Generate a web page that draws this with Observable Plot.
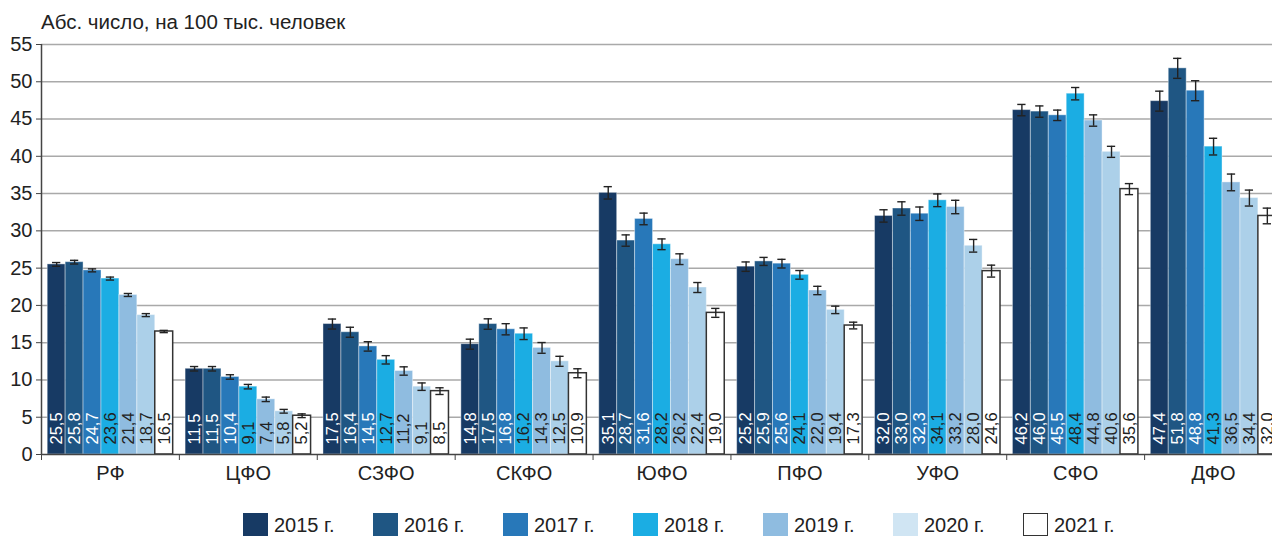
<!DOCTYPE html>
<html>
<head>
<meta charset="utf-8">
<script src="https://cdn.jsdelivr.net/npm/d3@7"></script>
<script src="https://cdn.jsdelivr.net/npm/@observablehq/plot@0.6"></script>
<style>
  html, body { margin: 0; padding: 0; overflow: hidden; background: #fff; width: 1272px; height: 536px; }
  body { position: relative; font-family: "Liberation Sans", Arial, sans-serif; color: #222; }
  #title { position: absolute; left: 41px; top: 12px; font-size: 20.5px; line-height: 1; white-space: nowrap; }
  #chart { position: absolute; left: 0; top: 0; }
  #chart svg { max-width: none !important; }
  #legend { position: absolute; left: 243px; top: 513px; display: flex; }
  .item { width: 130px; display: flex; align-items: center; }
  .sw { width: 25px; height: 23px; box-sizing: border-box; }
  .lt { margin-left: 6px; font-size: 20px; line-height: 1; }
</style>
</head>
<body>
<div id="title">Абс. число, на 100 тыс. человек</div>
<div id="chart"></div>
<div id="legend"></div>
<script>
// ---- data ----
const regions = ["РФ", "ЦФО", "СЗФО", "СКФО", "ЮФО", "ПФО", "УФО", "СФО", "ДФО"];
const years = ["2015 г.", "2016 г.", "2017 г.", "2018 г.", "2019 г.", "2020 г.", "2021 г."];
const v2015 = [25.5, 11.5, 17.5, 14.8, 35.1, 25.2, 32.0, 46.2, 47.4];
const v2016 = [25.8, 11.5, 16.4, 17.5, 28.7, 25.9, 33.0, 46.0, 51.8];
const v2017 = [24.7, 10.4, 14.5, 16.8, 31.6, 25.6, 32.3, 45.5, 48.8];
const v2018 = [23.6, 9.1, 12.7, 16.2, 28.2, 24.1, 34.1, 48.4, 41.3];
const v2019 = [21.4, 7.4, 11.2, 14.3, 26.2, 22.0, 33.2, 44.8, 36.5];
const v2020 = [18.7, 5.8, 9.1, 12.5, 22.4, 19.4, 28.0, 40.6, 34.4];
const v2021 = [16.5, 5.2, 8.5, 10.9, 19.0, 17.3, 24.6, 35.6, 32.0];
// error bar half-widths (estimated)
const e2015 = [0.25, 0.3, 0.67, 0.67, 0.83, 0.63, 0.83, 0.76, 1.34];
const e2016 = [0.25, 0.3, 0.67, 0.70, 0.76, 0.54, 0.90, 0.76, 1.34];
const e2017 = [0.20, 0.3, 0.63, 0.75, 0.78, 0.58, 0.90, 0.70, 1.34];
const e2018 = [0.20, 0.3, 0.56, 0.78, 0.72, 0.58, 0.85, 0.83, 1.12];
const e2019 = [0.20, 0.3, 0.56, 0.72, 0.72, 0.56, 0.90, 0.76, 1.12];
const e2020 = [0.20, 0.25, 0.50, 0.67, 0.67, 0.50, 0.85, 0.74, 1.07];
const e2021 = [0.15, 0.25, 0.45, 0.60, 0.60, 0.45, 0.80, 0.74, 1.05];
const yTicks = [0, 5, 10, 15, 20, 25, 30, 35, 40, 45, 50, 55];

// ---- style ----
const barColors = ["#173a64", "#1f5683", "#2878b9", "#1badE3", "#8fbce0", "#acd0e9", "#ffffff"];
const legendColors = ["#173a64", "#1f5683", "#2878b9", "#1bade3", "#8fbce0", "#d0e5f3", "#ffffff"];
const labelColors = ["#ffffff", "#ffffff", "#ffffff", "#222222", "#222222", "#222222", "#222222"];
const pad = 0.045, bw = 0.13, cap = 0.03;

const series = [v2015, v2016, v2017, v2018, v2019, v2020, v2021];
const errs = [e2015, e2016, e2017, e2018, e2019, e2020, e2021];
const rows = [];
regions.forEach((r, i) => series.forEach((vals, j) => {
  const x1 = i + pad + j * bw;
  rows.push({region: r, year: years[j], i, j, value: vals[i], err: errs[j][i],
    x1, x2: x1 + bw, xc: x1 + bw / 2, color: barColors[j], lc: labelColors[j]});
}));
const seps = d3.range(regions.length + 1);
const centers = regions.map((_, i) => i + 0.5);
const fmt = v => v.toFixed(1).replace(".", ",");

const chart = Plot.plot({
  width: 1282, height: 500,
  marginLeft: 41, marginRight: 0, marginTop: 44, marginBottom: 46,
  x: {domain: [0, regions.length]},
  y: {domain: [0, 55]},
  color: {type: "identity"},
  style: {fontFamily: "'Liberation Sans', Arial, sans-serif", color: "#222", background: "transparent", maxWidth: "none", overflow: "visible"},
  marks: [
    Plot.ruleY(yTicks.filter(d => d > 0), {stroke: "#a9a9a9", strokeWidth: 1.5}),
    Plot.rect(rows.filter(d => d.j < 6), {x1: "x1", x2: "x2", y1: 0, y2: "value", fill: "color", stroke: "#ffffff", strokeOpacity: 0.4, strokeWidth: 1}),
    Plot.rect(rows.filter(d => d.j === 6), {x1: "x1", x2: "x2", y1: 0, y2: "value", fill: "#ffffff", stroke: "#333", strokeWidth: 1.5}),
    Plot.ruleX(rows, {x: "xc", y1: d => d.value - d.err, y2: d => d.value + d.err, stroke: "#222", strokeWidth: 1.4}),
    Plot.ruleY(rows, {y: d => d.value + d.err, x1: d => d.xc - cap, x2: d => d.xc + cap, stroke: "#222", strokeWidth: 1.4}),
    Plot.ruleY(rows, {y: d => d.value - d.err, x1: d => d.xc - cap, x2: d => d.xc + cap, stroke: "#222", strokeWidth: 1.4}),
    Plot.text(rows, {x: "xc", y: 0, text: d => fmt(d.value), rotate: -90, textAnchor: "start", dy: -10, fontSize: 16.5, fill: "lc"}),
    Plot.ruleX([0], {stroke: "#444", strokeWidth: 1.5}),
    Plot.ruleY([0], {stroke: "#444", strokeWidth: 1.5}),
    Plot.axisY(yTicks, {tickSize: 5, tickPadding: 4, fontSize: 20, stroke: "#444", label: null}),
    Plot.axisX(seps, {tickSize: 6, tickFormat: () => "", stroke: "#444", label: null}),
    Plot.axisX(centers, {tickSize: 0, tickPadding: 11, tickFormat: d => regions[Math.floor(d)], fontSize: 20, label: null})
  ]
});
document.getElementById("chart").appendChild(chart);

const legend = document.getElementById("legend");
years.forEach((y, j) => {
  const item = document.createElement("div");
  item.className = "item";
  const sw = document.createElement("div");
  sw.className = "sw";
  sw.style.background = legendColors[j];
  if (j === 6) sw.style.border = "1.5px solid #333";
  const t = document.createElement("span");
  t.className = "lt";
  t.textContent = y;
  item.appendChild(sw);
  item.appendChild(t);
  legend.appendChild(item);
});
</script>
</body>
</html>
